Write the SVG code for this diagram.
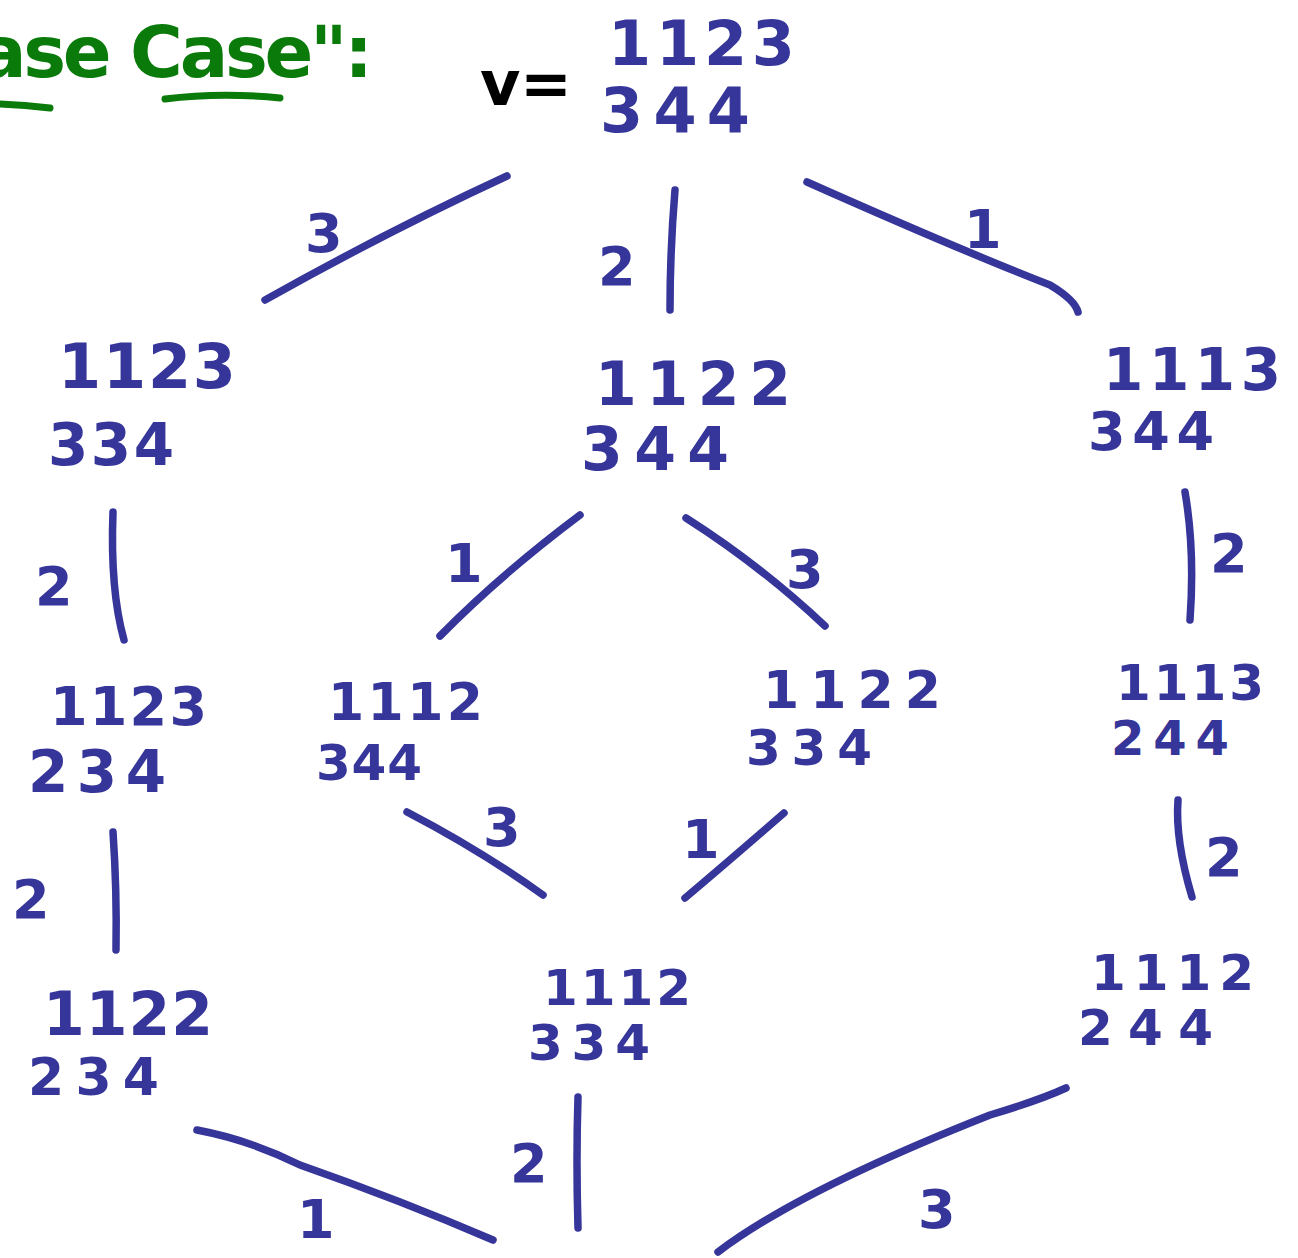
<svg xmlns="http://www.w3.org/2000/svg" width="1298" height="1258" viewBox="0 0 1298 1258">
<style>
.n{font-family:"DejaVu Sans",sans-serif;font-weight:bold;fill:#35359a}
.l{font-family:"DejaVu Sans",sans-serif;font-weight:bold;fill:#35359a;font-size:54px}
.e{fill:none;stroke:#35359a;stroke-width:7.5;stroke-linecap:round;stroke-linejoin:round}
.g{font-family:"DejaVu Sans",sans-serif;font-weight:bold;fill:#0a7a0a;font-size:72px}
</style>
<rect width="1298" height="1258" fill="#ffffff"/>
<g id="title">
<text class="g" x="-22" y="77" textLength="395" lengthAdjust="spacing">ase Case":</text>
<path d="M0 104 Q25 105 50 108" fill="none" stroke="#0a7a0a" stroke-width="7" stroke-linecap="round"/>
<path d="M165 99 Q220 92 280 98" fill="none" stroke="#0a7a0a" stroke-width="7" stroke-linecap="round"/>
<text x="480" y="105" font-family="DejaVu Sans,sans-serif" font-weight="bold" font-size="62" fill="#000" textLength="92" lengthAdjust="spacing">v=</text>
</g>
<g id="edges">
<path class="e" d="M507 176 Q390 230 265 300"/>
<path class="e" d="M675 190 Q670 250 670 310"/>
<path class="e" d="M807 182 Q960 250 1050 285 Q1075 300 1078 312"/>
<path class="e" d="M113 512 Q110 590 124 640"/>
<path class="e" d="M580 515 Q500 575 440 636"/>
<path class="e" d="M686 518 Q760 565 825 626"/>
<path class="e" d="M1185 492 Q1195 550 1190 620"/>
<path class="e" d="M113 832 Q117 890 116 950"/>
<path class="e" d="M407 812 Q480 850 543 895"/>
<path class="e" d="M784 813 Q730 860 685 898"/>
<path class="e" d="M1178 800 Q1175 840 1192 897"/>
<path class="e" d="M197 1130 Q250 1140 300 1165 Q400 1200 493 1240"/>
<path class="e" d="M578 1097 Q576 1160 578 1228"/>
<path class="e" d="M1066 1088 Q1040 1100 990 1115 Q800 1190 718 1252"/>
</g>
<g id="edge-labels">
<text class="l" x="305" y="252">3</text>
<text class="l" x="598" y="285">2</text>
<text class="l" x="964" y="248">1</text>
<text class="l" x="35" y="605">2</text>
<text class="l" x="445" y="582">1</text>
<text class="l" x="786" y="588">3</text>
<text class="l" x="1210" y="572">2</text>
<text class="l" x="12" y="918">2</text>
<text class="l" x="483" y="846">3</text>
<text class="l" x="682" y="858">1</text>
<text class="l" x="1205" y="876">2</text>
<text class="l" x="297" y="1238">1</text>
<text class="l" x="510" y="1182">2</text>
<text class="l" x="918" y="1228">3</text>
</g>
<g id="node-top">
<text class="n" font-size="62" x="608" y="65" textLength="187" lengthAdjust="spacing">1123</text>
<text class="n" font-size="62" x="600" y="132" textLength="150" lengthAdjust="spacing">344</text>
</g>
<g id="node-l1">
<text class="n" font-size="62" x="58" y="388" textLength="178" lengthAdjust="spacing">1123</text>
<text class="n" font-size="58" x="48" y="465" textLength="126" lengthAdjust="spacing">334</text>
</g>
<g id="node-m1">
<text class="n" font-size="60" x="595" y="405" textLength="196" lengthAdjust="spacing">1122</text>
<text class="n" font-size="60" x="581" y="470" textLength="148" lengthAdjust="spacing">344</text>
</g>
<g id="node-r1">
<text class="n" font-size="58" x="1103" y="390" textLength="178" lengthAdjust="spacing">1113</text>
<text class="n" font-size="54" x="1088" y="450" textLength="126" lengthAdjust="spacing">344</text>
</g>
<g id="node-l2">
<text class="n" font-size="54" x="50" y="725" textLength="157" lengthAdjust="spacing">1123</text>
<text class="n" font-size="58" x="28" y="792" textLength="138" lengthAdjust="spacing">234</text>
</g>
<g id="node-m2l">
<text class="n" font-size="52" x="328" y="720" textLength="155" lengthAdjust="spacing">1112</text>
<text class="n" font-size="50" x="316" y="780" textLength="106" lengthAdjust="spacing">344</text>
</g>
<g id="node-m2r">
<text class="n" font-size="52" x="763" y="708" textLength="178" lengthAdjust="spacing">1122</text>
<text class="n" font-size="50" x="746" y="765" textLength="126" lengthAdjust="spacing">334</text>
</g>
<g id="node-r2">
<text class="n" font-size="50" x="1116" y="700" textLength="148" lengthAdjust="spacing">1113</text>
<text class="n" font-size="48" x="1111" y="755" textLength="118" lengthAdjust="spacing">244</text>
</g>
<g id="node-l3">
<text class="n" font-size="60" x="43" y="1035" textLength="170" lengthAdjust="spacing">1122</text>
<text class="n" font-size="52" x="28" y="1095" textLength="131" lengthAdjust="spacing">234</text>
</g>
<g id="node-m3">
<text class="n" font-size="50" x="543" y="1005" textLength="148" lengthAdjust="spacing">1112</text>
<text class="n" font-size="50" x="528" y="1060" textLength="122" lengthAdjust="spacing">334</text>
</g>
<g id="node-r3">
<text class="n" font-size="50" x="1091" y="990" textLength="163" lengthAdjust="spacing">1112</text>
<text class="n" font-size="50" x="1078" y="1045" textLength="135" lengthAdjust="spacing">244</text>
</g>
</svg>
